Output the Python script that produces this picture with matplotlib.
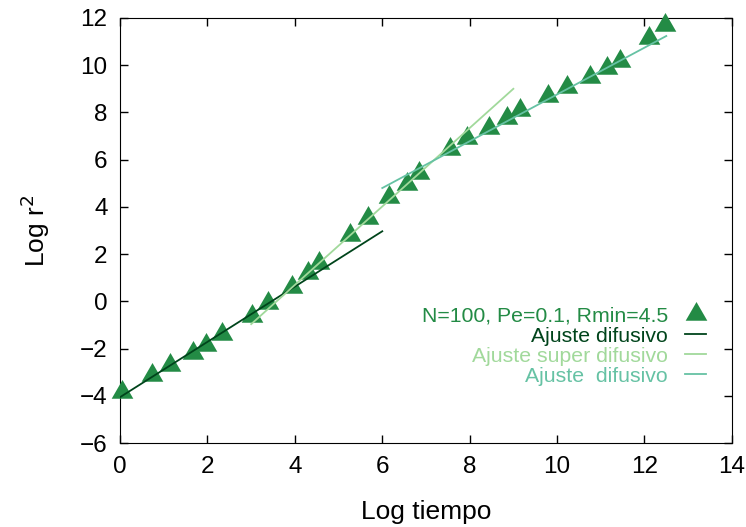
import numpy as np
import matplotlib.pyplot as plt

plt.rcParams['font.family'] = ['Liberation Sans', 'DejaVu Sans']

# simulation output: log(t) vs log(r^2)
log_t = [0.05, 0.73, 1.14, 1.67, 1.97, 2.33, 3.02, 3.39, 3.94, 4.30, 4.55,
         5.26, 5.68, 6.16, 6.57, 6.84, 7.55, 7.94, 8.44, 8.86, 9.15,
         9.80, 10.23, 10.76, 11.14, 11.44, 12.10, 12.47]
log_r2 = [-3.84, -3.12, -2.70, -2.19, -1.85, -1.38, -0.62, -0.07, 0.61, 1.20, 1.63,
          2.81, 3.53, 4.42, 4.97, 5.44, 6.46, 6.92, 7.35, 7.77, 8.11,
          8.70, 9.08, 9.50, 9.89, 10.19, 11.16, 11.71]

# linear fits: (slope, intercept, x range)
fit_dif1 = (1.17, -4.05, (0.0, 6.0))
fit_super = (1.66, -5.94, (3.0, 9.0))
fit_dif2 = (0.99, -1.14, (6.0, 12.5))

c_data = '#238b45'
c_dif1 = '#00441b'
c_super = '#a1d99b'
c_dif2 = '#66c2a4'

fig = plt.figure(figsize=(7.46, 5.27), dpi=100)
ax = fig.add_axes([0.161, 0.159, 0.82, 0.807])

tri = [(-1, -0.577), (1, -0.577), (0, 1.155)]
ax.plot(log_t, log_r2, linestyle='none', marker=tri, markersize=18,
        color=c_data, markeredgewidth=0, clip_on=False, zorder=3,
        label='N=100, Pe=0.1, Rmin=4.5')

for (m, b, (x0, x1)), col, lab in [(fit_dif1, c_dif1, 'Ajuste difusivo'),
                                   (fit_super, c_super, 'Ajuste super difusivo'),
                                   (fit_dif2, c_dif2, 'Ajuste  difusivo')]:
    xs = np.array([x0, x1])
    ax.plot(xs, m * xs + b, color=col, lw=1.3, label=lab, zorder=4)

ax.set_xlim(0, 14)
ax.set_ylim(-6, 12)
ax.set_xticks(range(0, 15, 2))
ax.set_yticks(range(-6, 13, 2))
ax.tick_params(direction='in', length=6, width=1, top=True, right=True,
               labelsize=17.5, pad=9)
ax.set_xlabel('Log tiempo', fontsize=19, labelpad=16)
ax.set_ylabel('Log r$^2$', fontsize=19, labelpad=20)

leg = ax.legend(loc='lower right', bbox_to_anchor=(0.972, 0.115), frameon=False,
                markerfirst=False, fontsize=15.3, handlelength=1.0,
                handletextpad=0.8, labelspacing=0.05, borderaxespad=0)
for col_box in leg._legend_handle_box.get_children():
    col_box.align = 'right'
for txt, col in zip(leg.get_texts(), [c_data, c_dif1, c_super, c_dif2]):
    txt.set_color(col)

fig.savefig('out.png', dpi=100)
